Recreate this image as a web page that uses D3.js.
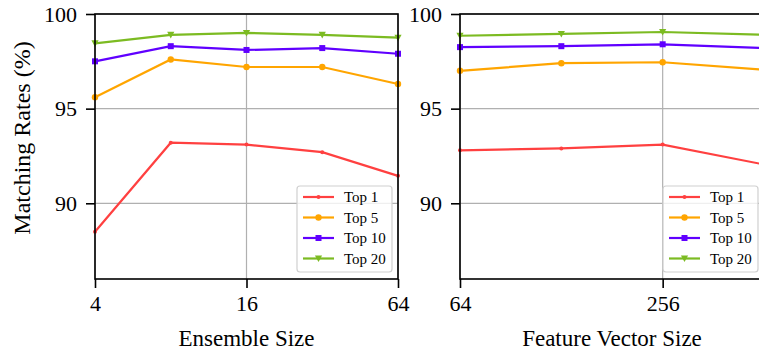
<!DOCTYPE html>
<html>
<head>
<meta charset="utf-8">
<script src="https://cdn.jsdelivr.net/npm/d3@7"></script>
<style>
  body { margin: 0; background: #fff; }
  svg { display: block; }
</style>
</head>
<body>
<svg id="chart" width="759" height="350" font-family="'Liberation Serif', 'DejaVu Serif', serif"></svg>
<script>
// data
var seriesNames = ['Top 1', 'Top 5', 'Top 10', 'Top 20'];
var seriesColors = ['#ff4040', '#ffa500', '#6000ff', '#7cbb22'];
var seriesMarkers = ['point', 'circle', 'square', 'triangle'];

var ensembleSizes = [4, 8, 16, 32, 64];
var ensembleTop1 = [88.5, 93.2, 93.1, 92.7, 91.45];
var ensembleTop5 = [95.6, 97.6, 97.2, 97.2, 96.3];
var ensembleTop10 = [97.5, 98.3, 98.1, 98.2, 97.9];
var ensembleTop20 = [98.45, 98.9, 99.0, 98.9, 98.75];
var ensembleTicks = [4, 16, 64];

var featureSizes = [64, 128, 256, 512];
var featureTop1 = [92.8, 92.9, 93.1, 92.05];
var featureTop5 = [97.0, 97.4, 97.45, 97.05];
var featureTop10 = [98.25, 98.3, 98.4, 98.2];
var featureTop20 = [98.85, 98.95, 99.05, 98.9];
var featureTicks = [64, 256];

var yTicks = [90, 95, 100];

var svg = d3.select('#chart');
var plotTop = 14, plotBottom = 279;
var serif = "'Liberation Serif', 'DejaVu Serif', serif";

var y = d3.scaleLinear().domain([86, 100]).range([plotBottom, plotTop]);

function drawPanel(opts) {
  var x = d3.scaleLog().base(2).domain(opts.domain).range([opts.left, opts.right]);
  var g = svg.append('g');

  // grid
  g.selectAll('.hgrid').data(yTicks).join('line')
    .attr('x1', opts.left).attr('x2', opts.right)
    .attr('y1', function(d) { return y(d); }).attr('y2', function(d) { return y(d); })
    .attr('stroke', '#b0b0b0').attr('stroke-width', 1.2);
  g.selectAll('.vgrid').data(opts.ticks).join('line')
    .attr('x1', function(d) { return x(d); }).attr('x2', function(d) { return x(d); })
    .attr('y1', plotTop).attr('y2', plotBottom)
    .attr('stroke', '#b0b0b0').attr('stroke-width', 1.2);

  // lines and markers
  var line = d3.line().x(function(d) { return x(d[0]); }).y(function(d) { return y(d[1]); });
  opts.series.forEach(function(vals, i) {
    var pts = opts.xs.map(function(v, j) { return [v, vals[j]]; });
    g.append('path').datum(pts)
      .attr('d', line).attr('fill', 'none')
      .attr('stroke', seriesColors[i]).attr('stroke-width', 2.2);
    pts.forEach(function(p) {
      drawMarker(g, seriesMarkers[i], x(p[0]), y(p[1]), seriesColors[i]);
    });
  });

  // frame
  g.append('rect').attr('x', opts.left).attr('y', plotTop)
    .attr('width', opts.right - opts.left).attr('height', plotBottom - plotTop)
    .attr('fill', 'none').attr('stroke', '#000').attr('stroke-width', 1.6);

  // axes
  var xAxis = d3.axisBottom(x).tickValues(opts.ticks).tickFormat(d3.format('d'))
    .tickSize(9).tickPadding(7);
  var gx = g.append('g').attr('transform', 'translate(0,' + plotBottom + ')').call(xAxis);
  var yAxis = d3.axisLeft(y).tickValues(yTicks).tickSize(9).tickPadding(9);
  var gy = g.append('g').attr('transform', 'translate(' + opts.left + ',0)').call(yAxis);
  [gx, gy].forEach(function(a) {
    a.attr('font-family', serif).attr('font-size', 22);
    a.select('.domain').remove();
    a.selectAll('line').attr('stroke', '#000').attr('stroke-width', 1.6);
    a.selectAll('text').attr('fill', '#000');
  });

  g.append('text').attr('x', (opts.left + opts.right) / 2).attr('y', 346)
    .attr('text-anchor', 'middle').attr('font-size', 23).text(opts.label);

  // legend
  var lx = opts.right - 101, ly = 186;
  g.append('rect').attr('x', lx).attr('y', ly).attr('width', 95).attr('height', 86)
    .attr('rx', 3).attr('fill', 'rgba(255,255,255,0.8)')
    .attr('stroke', '#d0d0d0').attr('stroke-width', 1.2);
  seriesNames.forEach(function(name, i) {
    var yy = ly + 11 + i * 20.5;
    g.append('line').attr('x1', lx + 6).attr('x2', lx + 37)
      .attr('y1', yy).attr('y2', yy)
      .attr('stroke', seriesColors[i]).attr('stroke-width', 2.2);
    drawMarker(g, seriesMarkers[i], lx + 21.5, yy, seriesColors[i]);
    g.append('text').attr('x', lx + 47).attr('y', yy + 5)
      .attr('font-size', 15).text(name);
  });
}

function drawMarker(g, type, cx, cy, color) {
  if (type === 'point') {
    g.append('circle').attr('cx', cx).attr('cy', cy).attr('r', 2).attr('fill', color);
  } else if (type === 'circle') {
    g.append('circle').attr('cx', cx).attr('cy', cy).attr('r', 3.2).attr('fill', color);
  } else if (type === 'square') {
    g.append('rect').attr('x', cx - 3).attr('y', cy - 3).attr('width', 6).attr('height', 6)
      .attr('fill', color);
  } else {
    g.append('path')
      .attr('d', 'M' + (cx - 3.6) + ',' + (cy - 3) + 'L' + (cx + 3.6) + ',' + (cy - 3) +
        'L' + cx + ',' + (cy + 3.6) + 'Z')
      .attr('fill', color);
  }
}

drawPanel({
  left: 95, right: 398, domain: [4, 64], xs: ensembleSizes,
  series: [ensembleTop1, ensembleTop5, ensembleTop10, ensembleTop20],
  ticks: ensembleTicks, label: 'Ensemble Size'
});
drawPanel({
  left: 460, right: 764, domain: [64, 512], xs: featureSizes,
  series: [featureTop1, featureTop5, featureTop10, featureTop20],
  ticks: featureTicks, label: 'Feature Vector Size'
});

svg.append('text')
  .attr('transform', 'translate(30,138) rotate(-90)')
  .attr('text-anchor', 'middle').attr('font-size', 24)
  .text('Matching Rates (%)');
</script>
</body>
</html>
